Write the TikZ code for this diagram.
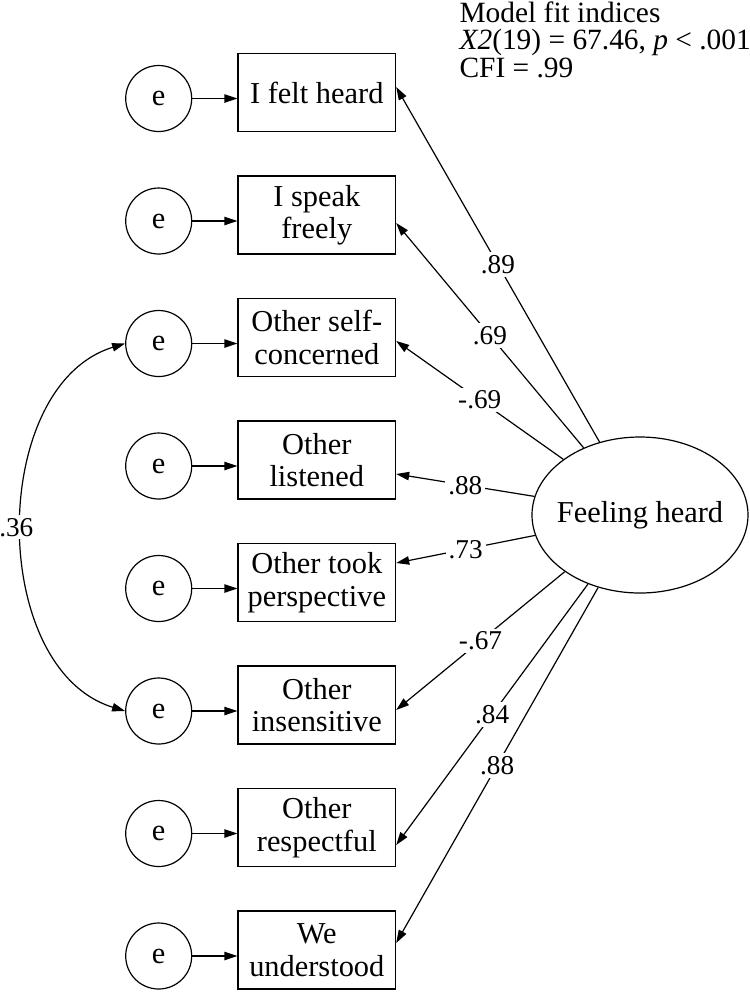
\documentclass[tikz,border=0pt]{standalone}
\usepackage{fontspec}
\setmainfont{Liberation Serif}
\usetikzlibrary{arrows.meta, positioning, shapes.geometric}

\tikzset{
  indicator/.style={draw, rectangle, minimum width=78.8pt, minimum height=39pt, inner sep=1pt,
                    align=center, font=\fontsize{15.2}{16.2}\selectfont},
  err/.style={draw, circle, minimum size=33pt, inner sep=0pt, font=\fontsize{15.2}{16.2}\selectfont},
  latent/.style={draw, ellipse, minimum width=108pt, minimum height=78pt, inner ysep=0pt,
                 inner xsep=-6pt, font=\fontsize{15.2}{16.2}\selectfont},
  coef/.style={fill=white, inner sep=1.5pt, font=\fontsize{13.6}{14}\selectfont},
  fitinfo/.style={inner sep=0pt, align=left, font=\fontsize{14.7}{13.8}\selectfont},
}

\begin{document}
\begin{tikzpicture}[x=0.5pt, y=0.5pt, line width=0.6pt, >={Triangle[length=6.5pt,width=4.2pt]}]
  \useasboundingbox (0,0) rectangle (750,-993);
  % observed items with their error terms
  \foreach \i/\yc/\txt in {1/92.5/{I felt heard}, 2/215/{I speak\\freely}, 3/337.5/{Other self-\\concerned},
                           4/460/{Other\\listened}, 5/582.5/{Other took\\perspective}, 6/705/{Other\\insensitive},
                           7/827.5/{Other\\respectful}, 8/950/{We\\understood}}{
    \node[indicator] (b\i) at (316.8,-\yc) {\txt};
    \node[err] (e\i) at (158.7,-\yc-6) {e};
    \draw[->] (e\i.east) -- (e\i.east -| b\i.west);
  }
  % latent factor and loadings
  \node[latent] (fh) at (640,-515) {Feeling heard};
  \foreach \a/\s/\j/\v in {119.9/2.75/1/.89, 130.4/-4/2/.69, 144.3/-1.75/3/-.69, 170.4/-7/4/.88,
                           191.8/9.75/5/.73, 217.7/-2.5/6/-.67, 233.4/-8.75/7/.84, 240.1/3.5/8/.88}
    \draw[->] (fh.\a) -- node[coef]{\v} ([yshift=\s pt]b\j.east);
  % residual covariance
  \draw[<->] (e3.west) to[out=197, in=163] node[coef, xshift=-3pt]{.36} (e6.west);
  % fit indices
  \node[fitinfo, anchor=north west] (fit) at (459,-1)
    {Model fit indices\\\textit{X2}(19) = 67.46, \textit{p} < .001\\CFI = .99};
\end{tikzpicture}
\end{document}
